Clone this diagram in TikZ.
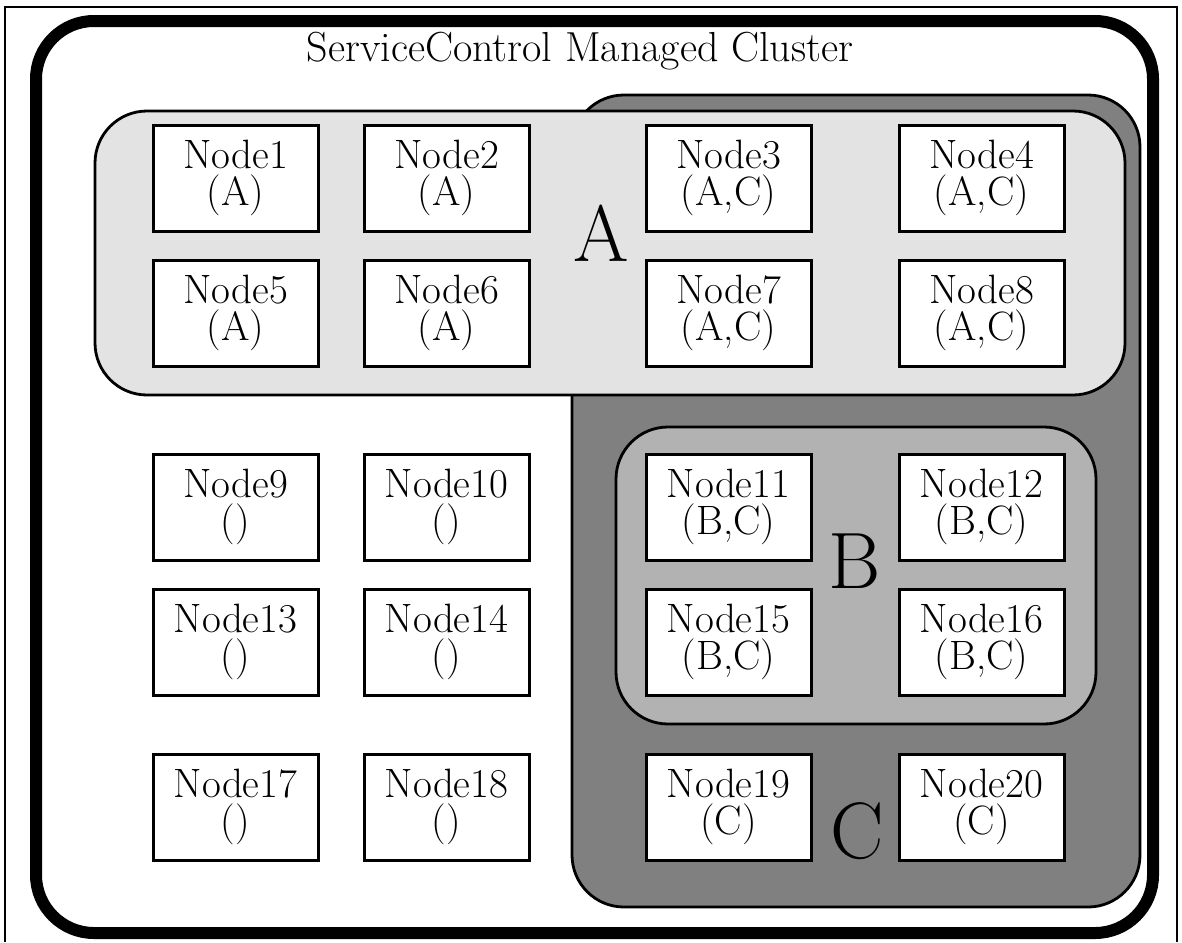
\documentclass[tikz,border=0pt]{standalone}
\usepackage{tikz}

\begin{document}
\begin{tikzpicture}[x=0.5pt,y=-0.5pt,node distance=105.5pt,
                main/.style = {draw, fill=white, line width=1.5pt, minimum width=82.5pt, minimum height=53pt,
                               inner sep=0pt, align=center, font=\fontsize{20.5}{18.5}\selectfont},
                region/.style = {draw, line width=1.4pt, rounded corners=26pt},
                letter/.style = {anchor=base, inner sep=0pt, font=\fontsize{40}{40}\selectfont}]
                \useasboundingbox (0,0) rectangle (1182,942);
                \draw[line width=1pt] (5,942) -- (5,7) -- (1177,7) -- (1177,942);
                \draw[line width=6pt, rounded corners=29pt] (36,21) rectangle (1153,933);
                \node[anchor=base, font=\fontsize{21}{21}\selectfont] (title) at (580,61) {ServiceControl Managed Cluster};
                % groups
                \draw[region, fill=black!50] (572,95) rectangle (1140,907);
                \draw[region, fill=black!11] (95,111) rectangle (1125,395);
                \draw[region, fill=black!30] (616,427) rectangle (1096,724);
                \node[letter] (lblA) at (601,261) {A};
                \node[letter] (lblB) at (855,588) {B};
                \node[letter] (lblC) at (857,858) {C};
                % first column
                \node[main] (1) at (235.5,178) {Node1\\(A)};
                \node[main] (5) [below of=1, node distance=67.5pt] {Node5\\(A)};
                \node[main] (9) [below of=5, node distance=97pt] {Node9\\()};
                \node[main] (13) [below of=9, node distance=67.5pt] {Node13\\()};
                \node[main] (17) [below of=13, node distance=82.5pt] {Node17\\()};
                % other columns
                \node[main] (2) [right of=1] {Node2\\(A)};
                \node[main] (3) [right of=2, node distance=141pt] {Node3\\(A,C)};
                \node[main] (4) [right of=3, node distance=126.5pt] {Node4\\(A,C)};
                \node[main] (6) [right of=5] {Node6\\(A)};
                \node[main] (7) [right of=6, node distance=141pt] {Node7\\(A,C)};
                \node[main] (8) [right of=7, node distance=126.5pt] {Node8\\(A,C)};
                \node[main] (10) [right of=9] {Node10\\()};
                \node[main] (11) [right of=10, node distance=141pt] {Node11\\(B,C)};
                \node[main] (12) [right of=11, node distance=126.5pt] {Node12\\(B,C)};
                \node[main] (14) [right of=13] {Node14\\()};
                \node[main] (15) [right of=14, node distance=141pt] {Node15\\(B,C)};
                \node[main] (16) [right of=15, node distance=126.5pt] {Node16\\(B,C)};
                \node[main] (18) [right of=17] {Node18\\()};
                \node[main] (19) [right of=18, node distance=141pt] {Node19\\(C)};
                \node[main] (20) [right of=19, node distance=126.5pt] {Node20\\(C)};
            \end{tikzpicture}
\end{document}
